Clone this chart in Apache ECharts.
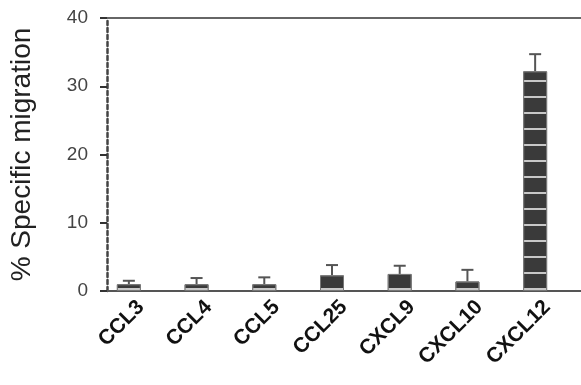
<!DOCTYPE html>
<html>
<head>
<meta charset="utf-8">
<script src="https://cdn.jsdelivr.net/npm/echarts@6/dist/echarts.min.js"></script>
<style>
  html, body { margin: 0; padding: 0; background: #ffffff; }
  #chart { width: 581px; height: 385px; }
</style>
</head>
<body>
<div id="chart"></div>
<script>
  // chemokines tested
  var categories = ['CCL3', 'CCL4', 'CCL5', 'CCL25', 'CXCL9', 'CXCL10', 'CXCL12'];
  // mean % specific migration
  var means = [1.0, 1.0, 1.0, 2.3, 2.5, 1.4, 32.2];
  // upper error (SEM)
  var errors = [0.5, 0.9, 1.0, 1.5, 1.2, 1.7, 2.5];
  var yTicks = [0, 10, 20, 30, 40];

  var barW = 24;
  var myChart = echarts.init(document.getElementById('chart'));

  var option = {
    animation: false,
    grid: { left: 107, top: 18, bottom: 94, width: 483 },
    xAxis: [
      {
        type: 'category',
        data: categories,
        axisLine: { lineStyle: { color: '#555', width: 2 } },
        axisTick: { alignWithLabel: true, length: 7, lineStyle: { color: '#333', width: 2 } },
        axisLabel: {
          rotate: 45, margin: 13, color: '#111',
          fontFamily: 'Liberation Sans', fontSize: 21, fontWeight: 'bold'
        }
      },
      {
        // top frame line
        type: 'category',
        position: 'top',
        data: categories,
        axisLine: { lineStyle: { color: '#666', width: 2 } },
        axisTick: { show: false },
        axisLabel: { show: false }
      }
    ],
    yAxis: {
      type: 'value',
      min: yTicks[0],
      max: yTicks[yTicks.length - 1],
      interval: 10,
      name: '% Specific migration',
      nameLocation: 'middle',
      nameGap: 71,
      nameTextStyle: { fontFamily: 'Liberation Sans', fontSize: 28, color: '#222' },
      axisLine: { show: true, lineStyle: { color: '#444', width: 2.5, type: [4, 3] } },
      axisTick: { show: true, length: 7, lineStyle: { color: '#333', width: 2 } },
      axisLabel: { margin: 19, fontFamily: 'Liberation Sans', fontSize: 19, color: '#444' },
      splitLine: { show: false }
    },
    series: [
      {
        type: 'bar',
        data: means,
        barWidth: barW,
        barGap: 0,
        itemStyle: {
          color: '#3a3a3a',
          borderColor: '#777',
          borderWidth: 1,
          decal: {
            symbol: 'rect',
            symbolSize: 1,
            dashArrayX: [1, 0],
            dashArrayY: [2, 14],
            color: 'rgba(215,215,215,0.9)',
            rotation: 0
          }
        }
      },
      {
        // empty slot so the bar sits left of the tick
        type: 'bar',
        data: means.map(function () { return null; }),
        barWidth: barW
      },
      {
        type: 'custom',
        data: means.map(function (m, i) { return [i, m, m + errors[i]]; }),
        renderItem: function (params, api) {
          var base = api.coord([api.value(0), api.value(1)]);
          var top = api.coord([api.value(0), api.value(2)]);
          var x = base[0] - barW / 2;
          return {
            type: 'group',
            children: [
              { type: 'line', shape: { x1: x, y1: base[1], x2: x, y2: top[1] },
                style: { stroke: '#555', lineWidth: 2 } },
              { type: 'line', shape: { x1: x - 6, y1: top[1], x2: x + 6, y2: top[1] },
                style: { stroke: '#555', lineWidth: 2 } }
            ]
          };
        },
        z: 1
      }
    ]
  };

  myChart.setOption(option);
</script>
</body>
</html>
